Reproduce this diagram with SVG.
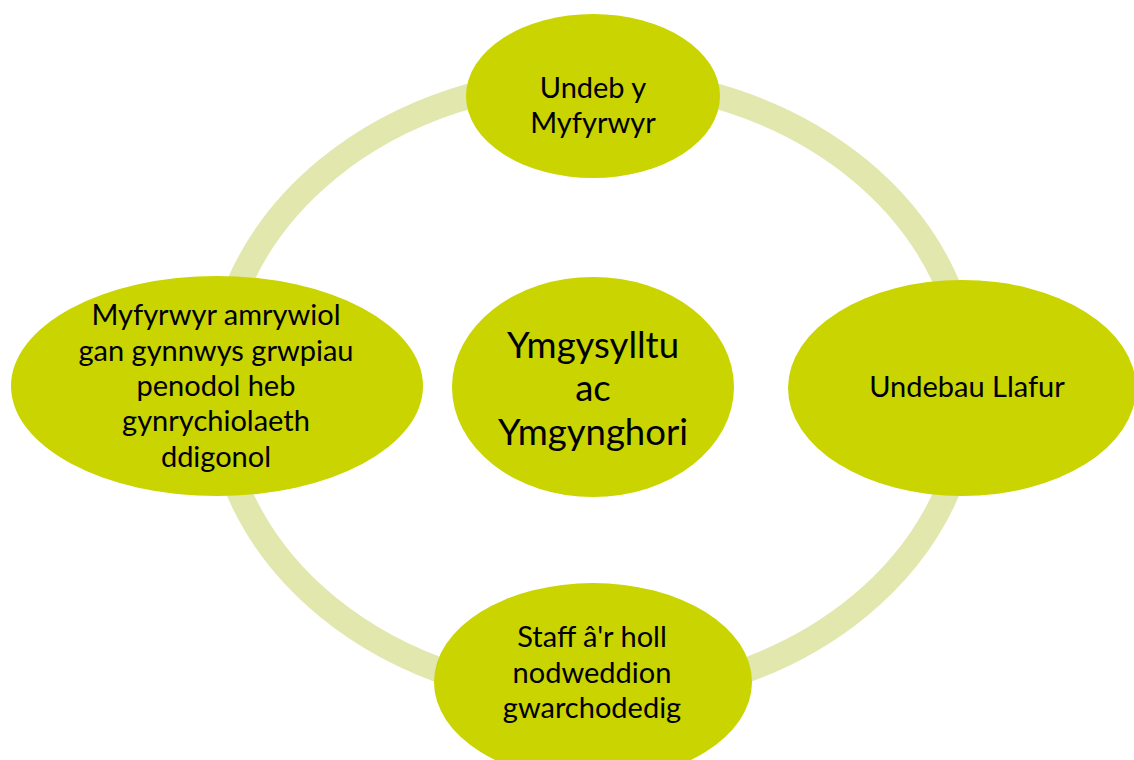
<svg xmlns="http://www.w3.org/2000/svg" width="1134" height="760" viewBox="0 0 1134 760">
<style>
.n{fill:#c9d400}
.t{font-family:Lato,"Liberation Sans",sans-serif;font-size:29px;fill:#000;text-anchor:middle}
.c{font-size:36.5px}
</style>
<rect width="1134" height="760" fill="#fff"/>
<g id="connectors">
<ellipse cx="593" cy="388" rx="376" ry="309" fill="none" stroke="#e1e7ad" stroke-width="25"/>
</g>
<g id="center">
<ellipse class="n" cx="593" cy="387" rx="141" ry="110"/>
<text class="t c" x="593" y="358">Ymgysylltu</text>
<text class="t c" x="593" y="401">ac</text>
<text class="t c" x="593" y="445">Ymgynghori</text>
</g>
<g id="top">
<ellipse class="n" cx="593" cy="96" rx="127" ry="82"/>
<text class="t" x="593" y="98">Undeb y</text>
<text class="t" x="593" y="133">Myfyrwyr</text>
</g>
<g id="right">
<ellipse class="n" cx="962" cy="388" rx="174" ry="108"/>
<text class="t" x="967" y="397">Undebau Llafur</text>
</g>
<g id="bottom">
<ellipse class="n" cx="593" cy="682" rx="159" ry="99"/>
<text class="t" x="592" y="647">Staff â'r holl</text>
<text class="t" x="592" y="683">nodweddion</text>
<text class="t" x="592" y="718">gwarchodedig</text>
</g>
<g id="left">
<ellipse class="n" cx="217" cy="386" rx="206" ry="110"/>
<text class="t" x="216" y="325">Myfyrwyr amrywiol</text>
<text class="t" x="216" y="360.5">gan gynnwys grwpiau</text>
<text class="t" x="216" y="396">penodol heb</text>
<text class="t" x="216" y="431">gynrychiolaeth</text>
<text class="t" x="216" y="467">ddigonol</text>
</g>
</svg>
